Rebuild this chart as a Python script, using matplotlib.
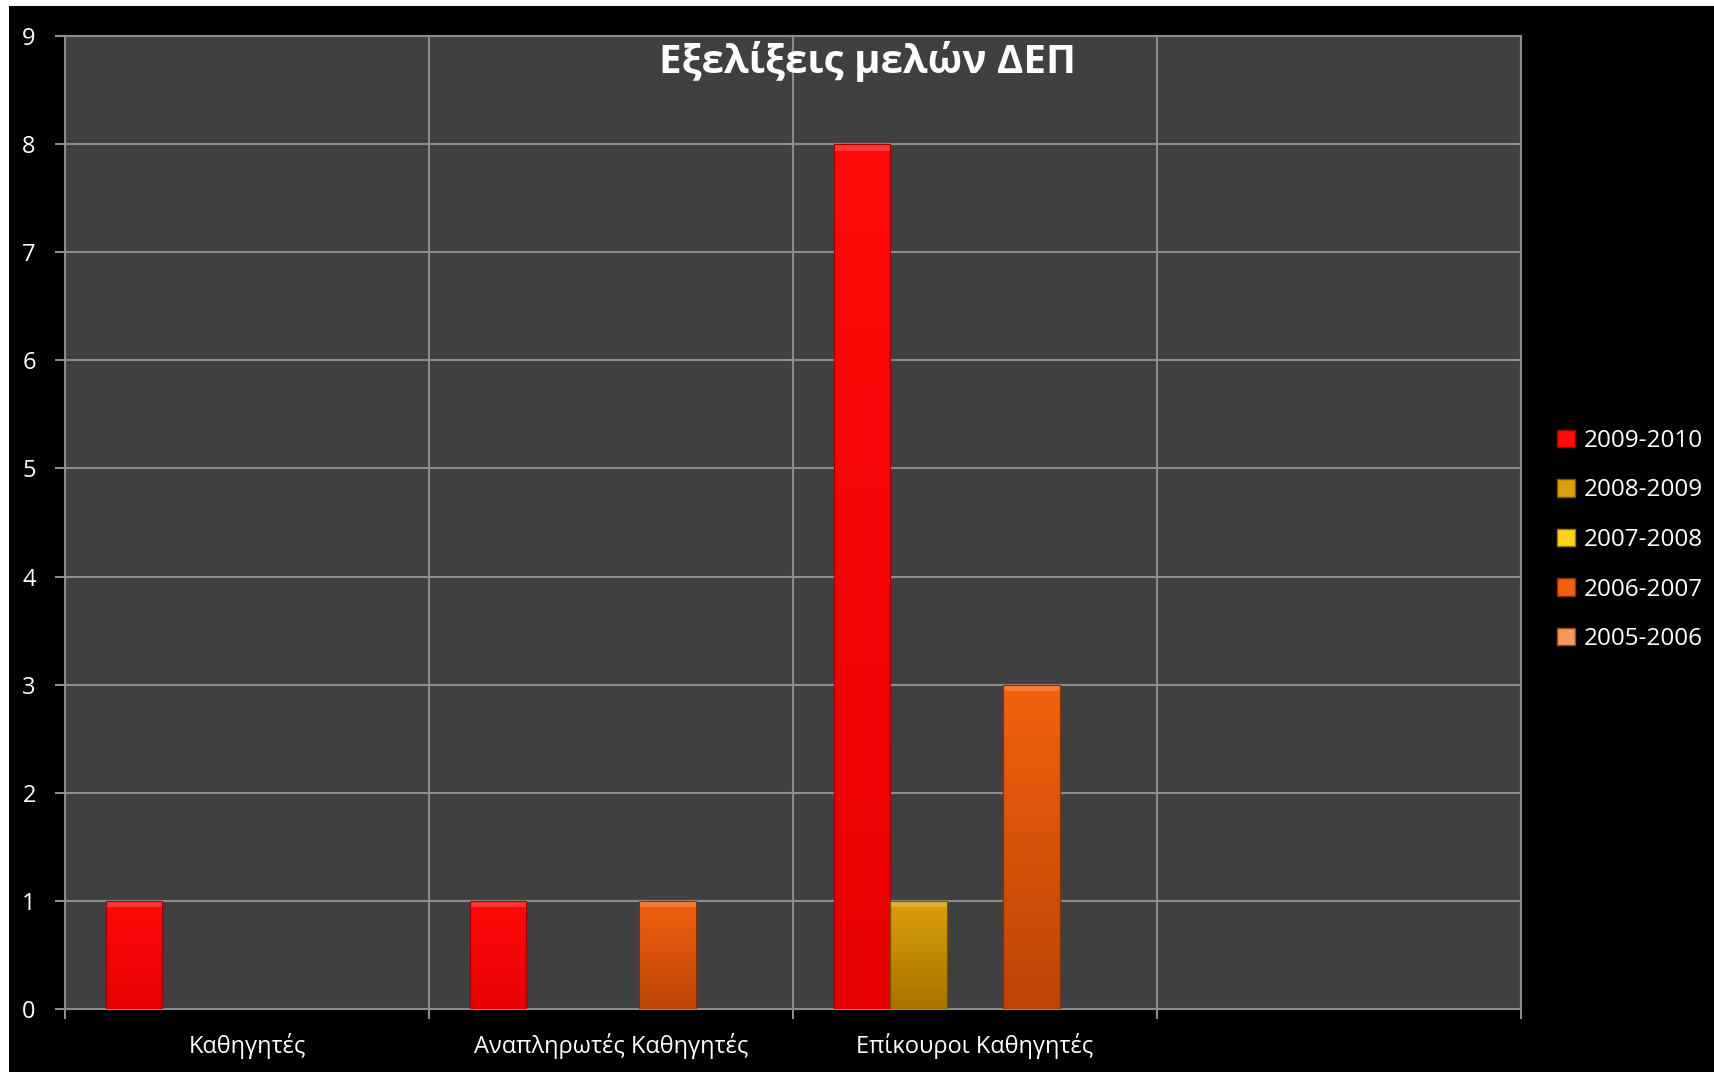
import numpy as np
import matplotlib
matplotlib.use("Agg")
from matplotlib import pyplot as plt
from matplotlib.colors import LinearSegmentedColormap
from matplotlib.patches import Rectangle

plt.rcParams['font.family'] = ['Open Sans', 'DejaVu Sans']

# chart data
categories = ["Καθηγητές", "Αναπληρωτές Καθηγητές", "Επίκουροι Καθηγητές", ""]
seriesNames = ["2009-2010", "2008-2009", "2007-2008", "2006-2007", "2005-2006"]
v2009_2010 = [1, 1, 8, 0]
v2008_2009 = [0, 0, 1, 0]
v2007_2008 = [0, 0, 0, 0]
v2006_2007 = [0, 1, 3, 0]
v2005_2006 = [0, 0, 0, 0]
seriesValues = [v2009_2010, v2008_2009, v2007_2008, v2006_2007, v2005_2006]
yTicks = list(range(0, 10))

# (top colour, bottom colour) of each series' gradient
seriesColors = [("#ff0a0a", "#e60000"),
                ("#dca00a", "#a87200"),
                ("#ffd21a", "#d4a000"),
                ("#f2600e", "#bb4506"),
                ("#f59a5c", "#c0602a")]
edgeColors = ["#a00000", "#7a5200", "#a07800", "#8a3000", "#904a20"]

fig = plt.figure(figsize=(17.15, 10.72), dpi=100, facecolor="white")
# black chart area, thin white border top and left like the original
fig.patches.append(Rectangle((9/1715, 0), 1 - 9/1715, 1 - 6/1072,
                             transform=fig.transFigure, facecolor="black",
                             edgecolor="none", zorder=-10))

ax = fig.add_axes([65/1715, 1 - 1009/1072, (1521-65)/1715, (1009-36)/1072])
ax.set_facecolor("#404040")

nCat = len(categories)
nSer = len(seriesNames)
barW = 0.155
groupStart = (1 - nSer*barW)/2

for s in range(nSer):
  vals = np.array(seriesValues[s], dtype=float)
  xs = np.arange(nCat) + groupStart + s*barW
  keep = vals > 0
  bars = ax.bar(xs[keep], vals[keep], width=barW, align="edge",
                color=seriesColors[s][1], edgecolor=edgeColors[s], linewidth=0.8, zorder=3)
  cmap = LinearSegmentedColormap.from_list("g%d" % s, [seriesColors[s][0], seriesColors[s][1]])
  for b in bars:
    x0, y0, w, h = b.get_x(), b.get_y(), b.get_width(), b.get_height()
    grad = np.linspace(0, 1, 64).reshape(-1, 1) * np.ones((1, 16))
    im = ax.imshow(grad, cmap=cmap, extent=(x0, x0+w, y0, y0+h), origin="upper",
                   aspect="auto", zorder=3.5, interpolation="bicubic")
    im.set_clip_path(b)
    # thin highlight at the top edge (bevel look)
    ax.add_patch(Rectangle((x0, y0+h-0.06), w, 0.06, facecolor="white", alpha=0.18,
                           edgecolor="none", zorder=4))
    ax.add_patch(Rectangle((x0, y0), w, h, facecolor="none", edgecolor=edgeColors[s],
                           linewidth=0.8, zorder=4))

ax.set_xlim(0, nCat)
ax.set_ylim(0, 9)
ax.set_yticks(yTicks)
ax.set_xticks(range(nCat+1))
ax.set_xticks(np.arange(nCat) + 0.5, minor=True)
ax.set_xticklabels([])
ax.set_xticklabels(categories, minor=True)
ax.tick_params(axis="x", which="minor", length=0, pad=17, labelsize=17, labelcolor="white")
ax.tick_params(axis="x", which="major", length=7, width=1.5, color="#8c8c8c", direction="out")
ax.tick_params(axis="y", length=7, width=1.5, color="#8c8c8c", direction="out",
               pad=14, labelsize=17, labelcolor="white")
ax.grid(True, which="major", color="#8c8c8c", linewidth=1.5, zorder=1)
ax.set_axisbelow(True)
for sp in ax.spines.values():
  sp.set_color("#8c8c8c")
  sp.set_linewidth(1.5)

ax.text((868-65)/(1521-65), 0.995, "Εξελίξεις μελών ΔΕΠ", transform=ax.transAxes,
        ha="center", va="top", color="white", fontsize=29, fontweight="bold", zorder=6)

handles = [Rectangle((0, 0), 1, 1, facecolor=seriesColors[s][0], edgecolor=edgeColors[s])
           for s in range(nSer)]
leg = fig.legend(handles, seriesNames, loc="center left", bbox_to_anchor=(1535/1715, 1 - 540/1072),
                 frameon=False, fontsize=17.5, labelcolor="white", handlelength=0.75,
                 handleheight=0.75, handletextpad=0.35, labelspacing=1.05)

fig.savefig("out.png", dpi=100, facecolor=fig.get_facecolor())
